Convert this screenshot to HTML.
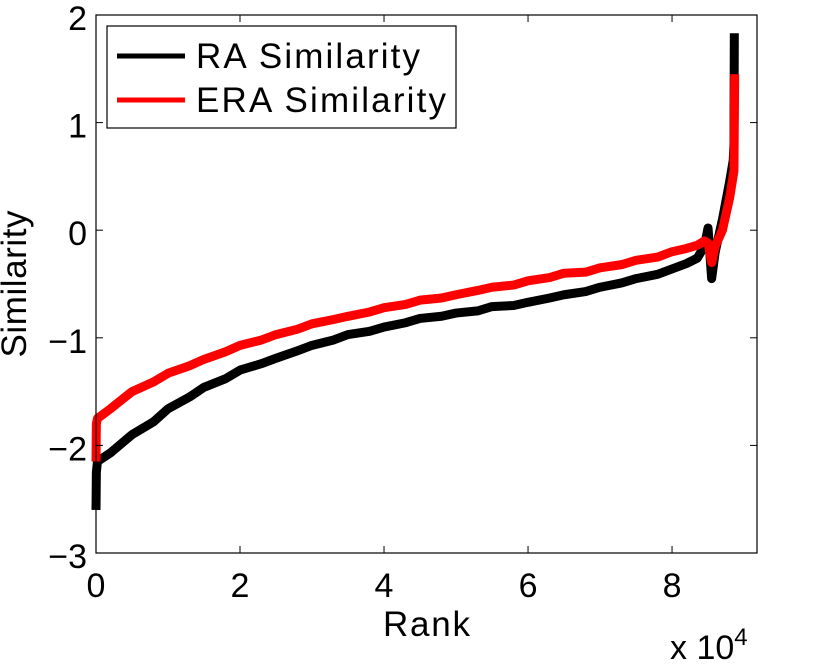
<!DOCTYPE html>
<html><head><meta charset="utf-8"><style>
body{margin:0;background:#fff;}
svg{display:block;font-family:"Liberation Sans",sans-serif;}
</style></head><body>
<svg id="c" width="830" height="664">
<rect width="830" height="664" fill="#fff"/>
</svg>
<script>
const xTicks=[0,2,4,6,8];
const yTicks=[-3,-2,-1,0,1,2];
const raX=[0,0.005,0.02,0.2,0.5,0.8,1,1.3,1.5,1.8,2,2.3,2.5,2.8,3,3.3,3.5,3.8,4,4.3,4.5,4.8,5,5.3,5.5,5.8,6,6.3,6.5,6.8,7,7.3,7.5,7.8,8,8.2,8.35,8.45,8.5,8.55,8.6,8.7,8.8,8.85,8.86,8.865];
const raY=[-2.6,-2.25,-2.15,-2.07,-1.9,-1.78,-1.66,-1.55,-1.46,-1.38,-1.3,-1.24,-1.19,-1.12,-1.07,-1.02,-0.97,-0.94,-0.9,-0.86,-0.82,-0.8,-0.77,-0.75,-0.71,-0.7,-0.67,-0.63,-0.6,-0.57,-0.53,-0.49,-0.45,-0.41,-0.36,-0.31,-0.26,-0.15,0.02,-0.45,-0.2,0.1,0.45,0.65,0.8,1.83];
const eraX=[0,0.005,0.02,0.2,0.5,0.8,1,1.3,1.5,1.8,2,2.3,2.5,2.8,3,3.3,3.5,3.8,4,4.3,4.5,4.8,5,5.3,5.5,5.8,6,6.3,6.5,6.8,7,7.3,7.5,7.8,8,8.2,8.35,8.45,8.5,8.55,8.6,8.7,8.8,8.86,8.87];
const eraY=[-2.15,-1.8,-1.75,-1.66,-1.5,-1.41,-1.33,-1.26,-1.2,-1.13,-1.07,-1.02,-0.97,-0.92,-0.87,-0.83,-0.8,-0.76,-0.72,-0.69,-0.65,-0.63,-0.6,-0.56,-0.53,-0.51,-0.47,-0.44,-0.4,-0.39,-0.35,-0.32,-0.28,-0.25,-0.2,-0.17,-0.14,-0.1,-0.12,-0.3,-0.15,0.0,0.3,0.55,1.45];
const L=96,R=757,T=15,B=553,XMAX=9.18,YMIN=-3,YMAX=2;
const sx=v=>L+v/XMAX*(R-L);
const sy=v=>B-(v-YMIN)/(YMAX-YMIN)*(B-T);
const svg=document.getElementById('c');
const NS='http://www.w3.org/2000/svg';
function mk(t,a){const e=document.createElementNS(NS,t);for(const k in a)e.setAttribute(k,a[k]);svg.appendChild(e);return e;}
function line(xs,ys,col,name){
  const p=mk('polyline',{points:xs.map((x,i)=>sx(x)+','+sy(ys[i])).join(' '),fill:'none',stroke:col,'stroke-width':9,'stroke-linejoin':'round'});
  
  
}
line(raX,raY,'#000','ra-series');
line(eraX,eraY,'#f00','era-series');
const ax=mk('rect',{x:L,y:T,width:R-L,height:B-T,fill:'none',stroke:'#000','stroke-width':1.2});


xTicks.forEach(v=>{
  mk('line',{x1:sx(v),x2:sx(v),y1:B,y2:B-7,stroke:'#000'});
  mk('line',{x1:sx(v),x2:sx(v),y1:T,y2:T+7,stroke:'#000'});
  const t=mk('text',{x:sx(v),y:B+44,'font-size':34,'text-anchor':'middle'});t.textContent=v;
  
  
});
yTicks.forEach(v=>{
  mk('line',{x1:L,x2:L+7,y1:sy(v),y2:sy(v),stroke:'#000'});
  mk('line',{x1:R,x2:R-7,y1:sy(v),y2:sy(v),stroke:'#000'});
  const t=mk('text',{x:L-9,y:sy(v)+15,'font-size':34,'text-anchor':'end'});t.textContent=v<0?'\u2212'+(-v):v;
  
  
});
</script>
<svg style="position:absolute;left:0;top:0" width="830" height="664">
<text x="383" y="636" font-size="35" textLength="87" font-family="Liberation Sans">Rank</text>
<text x="670" y="659" font-size="34" font-family="Liberation Sans">x 10<tspan dy="-14" font-size="24">4</tspan></text>
<text transform="translate(26,284) rotate(-90)" font-size="35" text-anchor="middle" textLength="147" font-family="Liberation Sans">Similarity</text>
<g>
<rect x="107" y="26" width="349" height="102" fill="#fff" stroke="#000" stroke-width="1.2"/>
<line x1="117" x2="185" y1="56" y2="56" stroke="#000" stroke-width="5"/>
<text x="196" y="68" font-size="35" textLength="224" font-family="Liberation Sans">RA Similarity</text>
<line x1="117" x2="185" y1="100" y2="100" stroke="#f00" stroke-width="5"/>
<text x="196" y="112" font-size="35" textLength="250" font-family="Liberation Sans">ERA Similarity</text>
</g>
</svg>
</body></html>
